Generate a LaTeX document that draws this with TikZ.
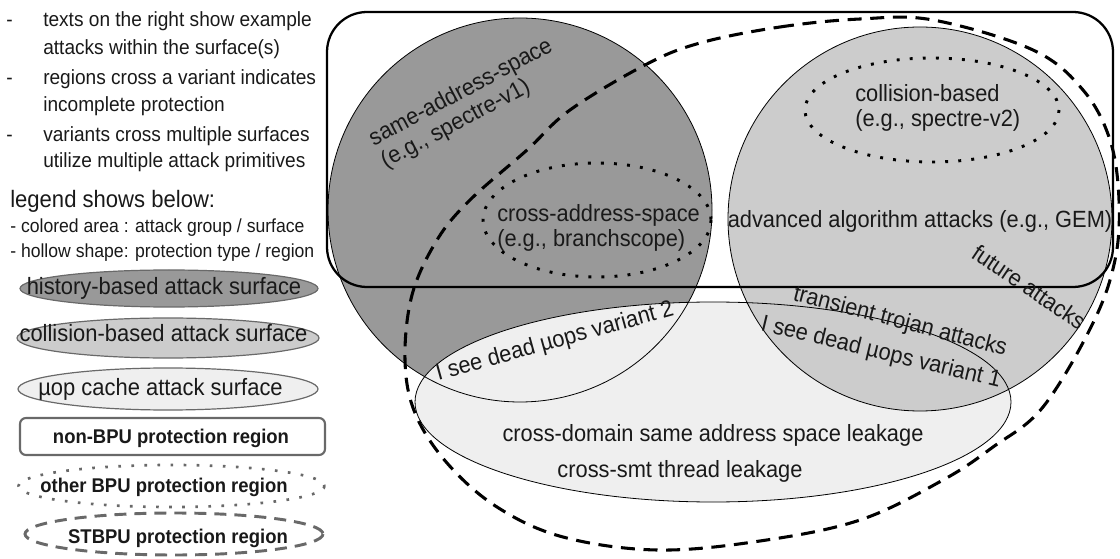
\documentclass[tikz,border=0pt]{standalone}
\usepackage{fontspec}
\setmainfont{Liberation Sans}[FakeStretch=0.93]
\definecolor{histfill}{RGB}{153,153,153}
\definecolor{collfill}{RGB}{204,204,204}
\definecolor{uopfill}{RGB}{239,239,239}
\definecolor{leggray}{RGB}{105,105,105}
\definecolor{txt}{RGB}{25,25,25}
\newcommand{\fsmain}{\fontsize{17.6}{19}\selectfont}
\newcommand{\fsnote}{\fontsize{15.4}{18}\selectfont}
\newcommand{\fslegtitle}{\fontsize{17.8}{20}\selectfont}
\newcommand{\fsleglist}{\fontsize{14.2}{17}\selectfont}
\newcommand{\fslegell}{\fontsize{17.7}{20}\selectfont}
\newcommand{\fslegbold}{\fontsize{14.9}{17}\selectfont\bfseries}
\begin{document}
\begin{tikzpicture}[x=0.75pt,y=-0.75pt,
  outl/.style={draw=black,line width=0.6pt},
  nonbpu/.style={draw=black,line width=1.7pt,rounded corners=30pt},
  otherbpu/.style={draw=black,line width=2.2pt,dash pattern=on 2.2pt off 7.6pt},
  stbpu/.style={draw=black,line width=2.3pt,dash pattern=on 10.5pt off 6.5pt},
  legell/.style={draw=leggray,line width=0.9pt},
  legrect/.style={draw=leggray,line width=1.6pt,rounded corners=4.5pt},
  legdot/.style={draw=leggray,line width=2pt,dash pattern=on 2pt off 7.8pt},
  legdash/.style={draw=leggray,line width=2.2pt,dash pattern=on 9pt off 6pt},
  lbl/.style={inner sep=0pt,text=txt,font=\fsmain},
  note/.style={inner sep=0pt,anchor=base west,text=txt,font=\fsnote},
  legtxt/.style={inner sep=0pt,anchor=base,text=txt,font=\fslegell},
  legbold/.style={inner sep=0pt,anchor=base,text=txt,font=\fslegbold}]
\useasboundingbox (0,0) rectangle (1120,559);

% ---------- surfaces (fills) ----------
\fill[histfill] (520,210) circle[radius=192];
\fill[uopfill] (713,402) ellipse[x radius=298,y radius=100];
\fill[collfill] (920,219) circle[radius=192];
% ---------- outlines ----------
\draw[outl] (520,210) circle[radius=192];
\draw[outl] (713,402) ellipse[x radius=298,y radius=100];
\draw[outl] (920,219) circle[radius=192];
% ---------- protection regions ----------
\draw[nonbpu] (327,12) rectangle (1113,287);
\draw[otherbpu] (597,220) ellipse[x radius=114,y radius=57];
\draw[otherbpu] (932,110) ellipse[x radius=127,y radius=52];
\draw[stbpu] plot[smooth cycle, tension=0.6] coordinates {(700,43) (780,27) (860,19) (933,20) (1033,50) (1083,90) (1110,140) (1119,200) (1115,260) (1093,323) (1043,407) (993,447) (943,480) (860,520) (760,541) (657,550) (563,537) (497,507) (447,463) (415,413) (405,360) (412,295) (437,240) (470,200) (527,150) (570,110) (645,65)};

% ---------- labels in the diagram ----------
\node[lbl,rotate=28,align=left] (sas) at (467,104) {same-address-space\\(e.g., spectre-v1)};
\node[lbl,anchor=west,align=left] (cas) at (497,228) {cross-address-space\\(e.g., branchscope)};
\node[lbl,anchor=west,align=left] (cb) at (855,108) {collision-based\\(e.g., spectre-v2)};
\node[lbl,anchor=base] (adv) at (920,228) {advanced algorithm attacks (e.g., GEM)};
\node[lbl,rotate=-34] (fut) at (1029,287) {future attacks};
\node[lbl,rotate=-14.6] (tt) at (900,322) {transient trojan attacks};
\node[lbl,rotate=-13.5] (v1) at (881,353) {I see dead µops variant 1};
\node[lbl,rotate=15.5] (v2) at (555,342) {I see dead µops variant 2};
\node[lbl,anchor=base] (cd) at (713,441) {cross-domain same address space leakage};
\node[lbl,anchor=base] (cs) at (680,477) {cross-smt thread leakage};

% ---------- notes ----------
\node[note] (n1d) at (6,27) {-};
\node[note] (n1) at (43,27) {texts on the right show example};
\node[note] (n2) at (43,55) {attacks within the surface(s)};
\node[note] (n3d) at (6,85) {-};
\node[note] (n3) at (43,85) {regions cross a variant indicates};
\node[note] (n4) at (43,112) {incomplete protection};
\node[note] (n5d) at (6,142) {-};
\node[note] (n5) at (43,142) {variants cross multiple surfaces};
\node[note] (n6) at (43,168) {utilize multiple attack primitives};
\node[note,font=\fslegtitle] (lt) at (10,208) {legend shows below:};
\node[note,font=\fsleglist] (l1) at (10,233) {- colored area : attack group / surface};
\node[note,font=\fsleglist] (l2) at (10,258) {- hollow shape: protection type / region};

% ---------- legend ----------
\draw[legell,fill=histfill] (169,288.5) ellipse[x radius=149,y radius=18.5];
\node[legtxt] (lh) at (164,295) {history-based attack surface};
\draw[legell,fill=collfill] (168,338) ellipse[x radius=151,y radius=20];
\node[legtxt] (lc) at (163.5,342) {collision-based attack surface};
\draw[legell,fill=uopfill] (168,389) ellipse[x radius=150,y radius=21];
\node[legtxt] (lu) at (160.5,395) {µop cache attack surface};
\draw[legrect] (20,418) rectangle (325,455);
\node[legbold] (ln) at (171,443) {non-BPU protection region};
\draw[legdot] (171.5,486) ellipse[x radius=153,y radius=21];
\node[legbold] (lo) at (164,492) {other BPU protection region};
\draw[legdash] (174,534) ellipse[x radius=149,y radius=21];
\node[legbold] (ls) at (178,543) {STBPU protection region};
\end{tikzpicture}
\end{document}
